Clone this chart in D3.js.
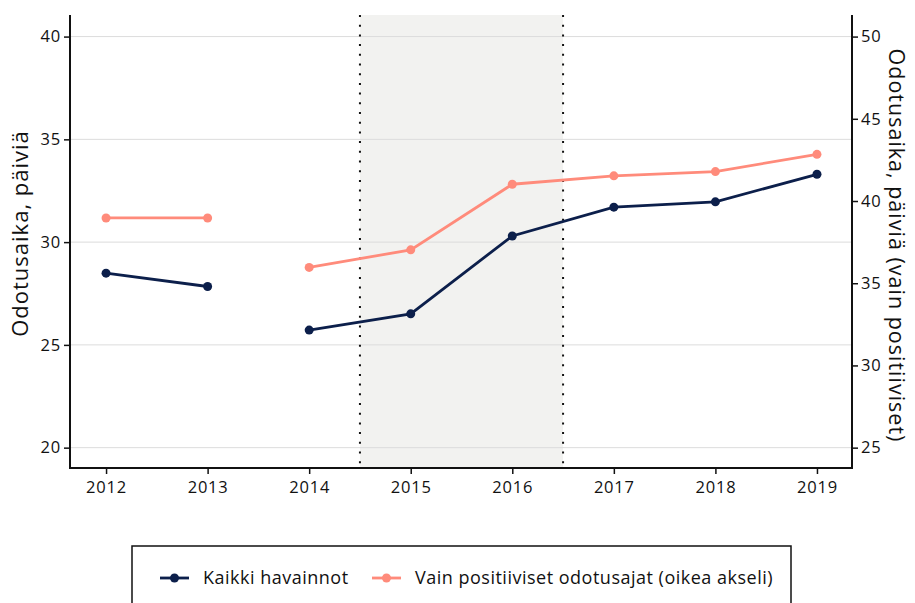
<!DOCTYPE html>
<html>
<head>
<meta charset="utf-8">
<script src="https://cdn.jsdelivr.net/npm/d3@7"></script>
<style>
  body { margin: 0; background: #fff; }
  svg text { font-family: "Century Gothic", "URW Gothic", "Open Sans", sans-serif; fill: #111; }
</style>
</head>
<body>
<div id="chart"></div>
<script>
var years = [2012, 2013, 2014, 2015, 2016, 2017, 2018, 2019];
var kaikki = [28.49, 27.84, 25.72, 26.51, 30.30, 31.70, 31.96, 33.30];
var positiiviset = [38.97, 38.97, 35.96, 37.03, 41.02, 41.53, 41.79, 42.84];
// line is broken between 2013 and 2014
var segments = [[2012, 2013], [2014, 2019]];
var shadeFrom = 2014.5, shadeTo = 2016.5;
var leftTicks = [20, 25, 30, 35, 40];
var rightTicks = [25, 30, 35, 40, 45, 50];
var seriesNames = ["Kaikki havainnot", "Vain positiiviset odotusajat (oikea akseli)"];

var svgWidth = 915, svgHeight = 603;
var margin = { top: 15, right: 63, bottom: 135, left: 70 };
var width = svgWidth - margin.left - margin.right;
var height = svgHeight - margin.top - margin.bottom;

var navy = "#0c1f4b", salmon = "#ff8b7b";

var svg = d3.select("#chart").append("svg")
  .attr("width", svgWidth)
  .attr("height", svgHeight);

var g = svg.append("g")
  .attr("transform", `translate(${margin.left}, ${margin.top})`);

var x = d3.scaleLinear().domain([2011.645, 2019.345]).range([0, width]);
var yLeft = d3.scaleLinear().domain([19.01, 41.05]).range([height, 0]);
// right axis: 25..50 sits on the same pixels as 20..40 on the left
var yRight = d3.scaleLinear()
  .domain([25 + (19.01 - 20) * 1.25, 25 + (41.05 - 20) * 1.25])
  .range([height, 0]);

// shaded period
g.append("rect")
  .attr("x", x(shadeFrom))
  .attr("y", 0)
  .attr("width", x(shadeTo) - x(shadeFrom))
  .attr("height", height)
  .attr("fill", "#f2f2f0");

// gridlines
g.selectAll(".grid").data(leftTicks).enter().append("line")
  .attr("x1", 0).attr("x2", width)
  .attr("y1", d => yLeft(d)).attr("y2", d => yLeft(d))
  .attr("stroke", "#dcdcdc").attr("stroke-width", 1);

// dotted boundaries
g.selectAll(".vline").data([shadeFrom, shadeTo]).enter().append("line")
  .attr("x1", d => x(d)).attr("x2", d => x(d))
  .attr("y1", 0).attr("y2", height)
  .attr("stroke", "#111").attr("stroke-width", 2)
  .attr("stroke-dasharray", "2,7.7");

// axes
var xAxis = g.append("g")
  .attr("transform", `translate(0, ${height})`)
  .call(d3.axisBottom(x).tickValues(years).tickFormat(d3.format("d")).tickSize(6).tickSizeOuter(0));
var leftAxis = g.append("g")
  .call(d3.axisLeft(yLeft).tickValues(leftTicks).tickSize(6).tickSizeOuter(0));
var rightAxis = g.append("g")
  .attr("transform", `translate(${width}, 0)`)
  .call(d3.axisRight(yRight).tickValues(rightTicks).tickSize(6).tickSizeOuter(0));

[xAxis, leftAxis, rightAxis].forEach(function(a) {
  a.select(".domain").attr("stroke", "#111").attr("stroke-width", 2);
  a.selectAll(".tick line").attr("stroke", "#111").attr("stroke-width", 1.5);
  a.selectAll(".tick text").attr("font-size", "16.5px").attr("letter-spacing", "0.8px").attr("fill", "#222");
});
xAxis.selectAll(".tick text").attr("dy", "0.95em");
xAxis.select(".domain").attr("d", `M-1,0H${width + 1}`);
leftAxis.select(".domain").attr("d", `M0,0V${height}`);
rightAxis.select(".domain").attr("d", `M0,0V${height}`);

// series
var line = d3.line().x(d => x(d.year)).y(d => d.y);

function drawSeries(values, scale, color) {
  var pts = years.map((yr, i) => ({ year: yr, y: scale(values[i]) }));
  segments.forEach(function(s) {
    var seg = pts.filter(p => p.year >= s[0] && p.year <= s[1]);
    g.append("path")
      .datum(seg)
      .attr("d", line)
      .attr("fill", "none")
      .attr("stroke", color)
      .attr("stroke-width", 2.8);
  });
  g.selectAll(null).data(pts).enter().append("circle")
    .attr("cx", d => x(d.year))
    .attr("cy", d => d.y)
    .attr("r", 4.5)
    .attr("fill", color);
}
drawSeries(positiiviset, yRight, salmon);
drawSeries(kaikki, yLeft, navy);

// axis titles
svg.append("text")
  .attr("transform", `translate(28, ${margin.top + height / 2 - 8}) rotate(-90)`)
  .attr("text-anchor", "middle")
  .attr("font-size", "22px")
  .attr("letter-spacing", "1px")
  .text("Odotusaika, päiviä");

svg.append("text")
  .attr("transform", `translate(889, ${margin.top + height / 2 + 4}) rotate(90)`)
  .attr("text-anchor", "middle")
  .attr("font-size", "21.5px")
  .attr("letter-spacing", "1px")
  .text("Odotusaika, päiviä (vain positiiviset)");

// legend
var legend = svg.append("g");
legend.append("rect")
  .attr("x", 132).attr("y", 546)
  .attr("width", 659).attr("height", 70)
  .attr("fill", "#fff").attr("stroke", "#111").attr("stroke-width", 1.5);

var legendItems = [
  { name: seriesNames[0], color: navy, x: 160 },
  { name: seriesNames[1], color: salmon, x: 372 }
];
legendItems.forEach(function(it) {
  legend.append("line")
    .attr("x1", it.x).attr("x2", it.x + 29)
    .attr("y1", 578).attr("y2", 578)
    .attr("stroke", it.color).attr("stroke-width", 2.8);
  legend.append("circle")
    .attr("cx", it.x + 14.5).attr("cy", 578).attr("r", 4.5)
    .attr("fill", it.color);
  legend.append("text")
    .attr("x", it.x + 43).attr("y", 578)
    .attr("dy", "0.35em")
    .attr("font-size", "18px")
    .attr("letter-spacing", "0.5px")
    .text(it.name);
});
</script>
</body>
</html>
